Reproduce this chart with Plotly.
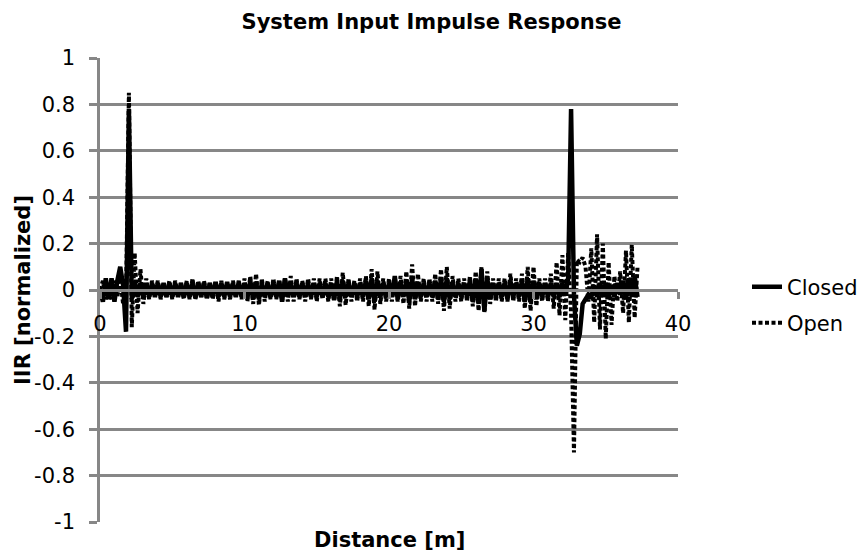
import plotly.graph_objects as go

# ---------------- data ----------------
DISTANCE_STEP_M = 0.2   # samples are 0.2 m apart, starting at 0 m

CLOSED = [
    0.00, -0.05, 0.05, -0.04, 0.05, -0.05, 0.04, 0.10, 0.02, -0.18,
    0.78, -0.04, 0.04, -0.03, 0.03, -0.03, 0.03, -0.03, 0.03, -0.03,
    0.03, -0.03, 0.03, -0.03, 0.03, -0.03, 0.03, -0.03, 0.03, -0.03,
    0.03, -0.03, 0.03, -0.035, 0.03, -0.03, 0.03, -0.035, 0.03, -0.03,
    0.035, -0.03, 0.03, -0.03, 0.035, -0.03, 0.03, -0.03, 0.035, -0.03,
    0.03, -0.035, 0.04, -0.04, 0.035, -0.04, 0.03, -0.03, 0.03, -0.03,
    0.03, -0.03, 0.04, -0.05, 0.05, -0.03, 0.03, -0.03, 0.03, -0.03,
    0.03, -0.03, 0.03, -0.03, 0.03, -0.03, 0.03, -0.03, 0.03, -0.03,
    0.03, -0.04, 0.04, -0.04, 0.04, -0.03, 0.03, -0.03, 0.03, -0.03,
    0.03, -0.03, 0.04, -0.04, 0.05, -0.05, 0.04, -0.03, 0.03, -0.03,
    0.03, -0.03, 0.06, -0.04, 0.03, -0.03, 0.04, -0.05, 0.05, -0.04,
    0.03, -0.03, 0.03, -0.03, 0.03, -0.03, 0.04, -0.04, 0.05, -0.05,
    0.05, -0.04, 0.03, -0.03, 0.03, -0.03, 0.03, -0.03, 0.04, -0.05,
    0.05, -0.06, 0.09, -0.09, 0.05, -0.04, 0.03, -0.03, 0.03, -0.03,
    0.03, -0.04, 0.04, -0.03, 0.03, -0.03, 0.04, -0.05, 0.05, -0.05,
    0.04, -0.04, 0.03, -0.03, 0.03, -0.03, 0.03, -0.03, 0.03, -0.03,
    0.03, -0.02, 0.05, 0.78, -0.02, -0.24, -0.19, -0.06, -0.04, -0.02,
    -0.03, 0.02, -0.03, 0.03, -0.02, 0.03, -0.03, 0.02, -0.03, 0.03,
    -0.02, 0.04, -0.04, 0.05, -0.03, 0.06, -0.03,
]

OPEN = [
    0.00, 0.04, -0.04, 0.03, -0.04, 0.04, -0.03, 0.05, -0.06, -0.05,
    0.85, -0.16, 0.16, -0.10, 0.09, -0.06, 0.05, -0.04, 0.04, -0.03,
    0.04, -0.04, 0.03, -0.03, 0.04, -0.04, 0.04, -0.03, 0.03, -0.04,
    0.04, -0.04, 0.05, -0.04, 0.04, -0.03, 0.04, -0.04, 0.03, -0.04,
    0.04, -0.05, 0.04, -0.04, 0.03, -0.04, 0.04, -0.03, 0.04, -0.04,
    0.05, -0.05, 0.06, -0.06, 0.07, -0.065, 0.05, -0.05, 0.04, -0.04,
    0.05, -0.04, 0.04, -0.05, 0.05, -0.05, 0.06, -0.05, 0.05, -0.04,
    0.04, -0.05, 0.05, -0.04, 0.05, -0.05, 0.05, -0.04, 0.05, -0.05,
    0.05, -0.05, 0.06, -0.07, 0.075, -0.065, 0.05, -0.05, 0.04, -0.05,
    0.05, -0.05, 0.06, -0.07, 0.09, -0.085, 0.08, -0.06, 0.05, -0.05,
    0.05, -0.05, 0.05, -0.05, 0.06, -0.06, 0.08, -0.08, 0.11, -0.07,
    0.07, -0.05, 0.05, -0.05, 0.05, -0.05, 0.07, -0.06, 0.09, -0.09,
    0.10, -0.08, 0.06, -0.05, 0.05, -0.05, 0.05, -0.05, 0.06, -0.07,
    0.08, -0.09, 0.10, -0.10, 0.08, -0.06, 0.05, -0.05, 0.05, -0.05,
    0.05, -0.05, 0.07, -0.05, 0.05, -0.05, 0.07, -0.08, 0.10, -0.09,
    0.10, -0.07, 0.05, -0.05, 0.05, -0.05, 0.07, -0.08, 0.12, -0.11,
    0.15, -0.13, 0.16, -0.10, -0.70, 0.13, 0.12, 0.14, 0.10, -0.05,
    0.18, -0.14, 0.24, -0.17, 0.20, -0.21, 0.12, -0.15, 0.06, -0.05,
    0.08, -0.10, 0.17, -0.14, 0.195, -0.12, 0.10,
]

X_TICK_VALUES = [0, 10, 20, 30, 40]
X_TICK_LABELS = ["0", "10", "20", "30", "40"]
Y_TICK_VALUES = [1, 0.8, 0.6, 0.4, 0.2, 0, -0.2, -0.4, -0.6, -0.8, -1]
Y_TICK_LABELS = ["1", "0.8", "0.6", "0.4", "0.2", "0", "-0.2", "-0.4", "-0.6", "-0.8", "-1"]

TITLE = "System Input Impulse Response"
X_TITLE = "Distance [m]"
Y_TITLE = "IIR [normalized]"

# ---------------- figure ----------------
distance = [round(i * DISTANCE_STEP_M, 3) for i in range(len(CLOSED))]

FONT = "DejaVu Sans, Verdana, sans-serif"
FS = 21
GRID = "#878787"

fig = go.Figure()
fig.add_trace(go.Scatter(
    x=distance, y=CLOSED, name="Closed", mode="lines",
    line=dict(color="black", width=4.5, simplify=False),
    legend="legend", showlegend=True,
))
fig.add_trace(go.Scatter(
    x=distance, y=OPEN, name="Open", mode="lines",
    line=dict(color="black", width=4, dash="4px,2.5px", simplify=False),
    legend="legend2", showlegend=True,
))

W, H = 863, 556
ML, MR, MT, MB = 100, 185, 58, 34
PW, PH = W - ML - MR, H - MT - MB


def px_x(p):
    return (p - ML) / PW


def px_y(p):
    return (H - MB - p) / PH


fig.update_layout(
    width=W, height=H, showlegend=True,
    margin=dict(l=ML, r=MR, t=MT, b=MB, pad=0, autoexpand=False),
    paper_bgcolor="white", plot_bgcolor="white",
    font=dict(family=FONT, size=FS, color="black"),
    title=dict(text="<b>" + TITLE + "</b>", x=0.5, xref="container", xanchor="center",
               y=1 - 22 / H, yref="container", yanchor="middle",
               font=dict(family=FONT, size=FS, color="black")),
    xaxis=dict(
        range=[0, 40], tickvals=X_TICK_VALUES, ticktext=X_TICK_LABELS,
        showgrid=False, zeroline=False,
        showline=True, linecolor=GRID, linewidth=2.5,
        ticks="outside", ticklen=7, tickwidth=2.5, tickcolor=GRID,
        anchor="free", position=0.5, ticklabelstandoff=7,
        tickfont=dict(family=FONT, size=FS, color="black"),
    ),
    yaxis=dict(
        range=[-1, 1], tickvals=Y_TICK_VALUES, ticktext=Y_TICK_LABELS,
        showgrid=True, gridcolor=GRID, gridwidth=2.5, zeroline=False,
        showline=True, linecolor=GRID, linewidth=2.5,
        ticks="outside", ticklen=8, tickwidth=2.5, tickcolor=GRID,
        ticklabelstandoff=10,
        tickfont=dict(family=FONT, size=FS, color="black"),
    ),
    legend=dict(x=px_x(747), y=px_y(287), xanchor="left", yanchor="middle",
                bgcolor="rgba(0,0,0,0)", font=dict(family=FONT, size=FS, color="black")),
    legend2=dict(x=px_x(747), y=px_y(323), xanchor="left", yanchor="middle",
                 bgcolor="rgba(0,0,0,0)", font=dict(family=FONT, size=FS, color="black")),
    annotations=[
        dict(text="<b>" + X_TITLE + "</b>", xref="paper", yref="paper",
             x=0.5, y=px_y(540), xanchor="center", yanchor="middle", showarrow=False,
             font=dict(family=FONT, size=FS, color="black")),
        dict(text="<b>" + Y_TITLE + "</b>", xref="paper", yref="paper",
             x=px_x(23), y=px_y(290), xanchor="center", yanchor="middle", showarrow=False,
             textangle=-90, font=dict(family=FONT, size=FS, color="black")),
    ],
)

fig.write_html("out.html", config={"displayModeBar": False},
               post_script="document.body.style.margin='0';")
